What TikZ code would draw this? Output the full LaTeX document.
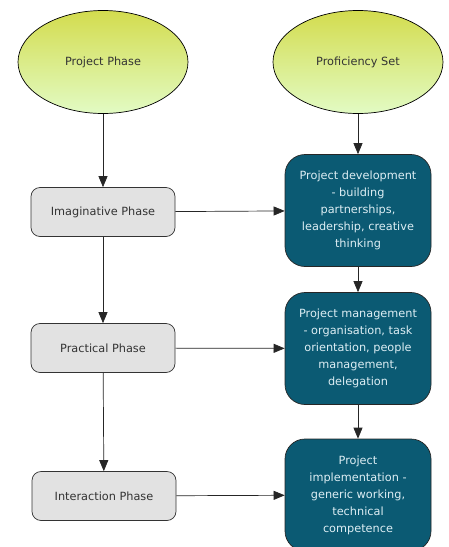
\documentclass[tikz,border=0pt]{standalone}
\usepackage{fontspec}
\setmainfont{DejaVu Sans}
\usetikzlibrary{shapes.geometric,arrows.meta}
\definecolor{teal1}{HTML}{0B5A73}
\definecolor{tealtext}{HTML}{DDEEF4}
\definecolor{graybox}{HTML}{E2E2E2}
\definecolor{ytop}{HTML}{D3DC4E}
\definecolor{ybot}{HTML}{E2FBC4}
\definecolor{txt}{HTML}{333333}
\tikzset{
  phaseell/.style={ellipse, draw=black, line width=0.7pt, top color=ytop, bottom color=ybot,
    minimum width=170pt, minimum height=103pt, inner sep=0pt, text=txt,
    font=\fontsize{11.3}{14}\selectfont},
  phasebox/.style={rectangle, rounded corners=9pt, draw=black!80, line width=0.7pt, fill=graybox,
    minimum width=144pt, minimum height=49pt, inner sep=0pt, text=txt,
    font=\fontsize{11.3}{14}\selectfont},
  skillbox/.style={rectangle, rounded corners=20pt, draw=black!85, line width=0.7pt, fill=teal1,
    minimum width=146pt, minimum height=112pt, inner sep=0pt, text=tealtext,
    align=center, font=\fontsize{11.3}{17}\selectfont},
  conn/.style={-{Triangle[length=11pt,width=9pt]}, line width=0.7pt, draw=black!85}
}
\begin{document}
\begin{tikzpicture}[x=1pt,y=-1pt]
\useasboundingbox[fill=white] (0,0) rectangle (448,547);
\node[phaseell] (pp) at (103,62) {Project Phase};
\node[phaseell] (ps) at (358,62) {Proficiency Set};
\node[phasebox] (imag) at (103,212) {Imaginative Phase};
\node[phasebox] (prac) at (103,348) {Practical Phase};
\node[phasebox] (inter) at (104,496) {Interaction Phase};
\node[skillbox] (dev) at (358,210.5) {Project development\\- building\\partnerships,\\leadership, creative\\thinking};
\node[skillbox] (mgmt) at (358,348.5) {Project management\\- organisation, task\\orientation, people\\management,\\delegation};
\node[skillbox] (impl) at (358,495) {Project\\implementation -\\generic working,\\technical\\competence};
\draw[conn] (pp) -- (imag);
\draw[conn] (imag) -- (prac);
\draw[conn] (prac) -- (inter);
\draw[conn] (ps) -- (dev);
\draw[conn] (dev) -- (mgmt);
\draw[conn] (mgmt) -- (impl);
\draw[conn] (imag) -- (dev);
\draw[conn] (prac) -- (mgmt);
\draw[conn] (inter) -- (impl);
\end{tikzpicture}
\end{document}
